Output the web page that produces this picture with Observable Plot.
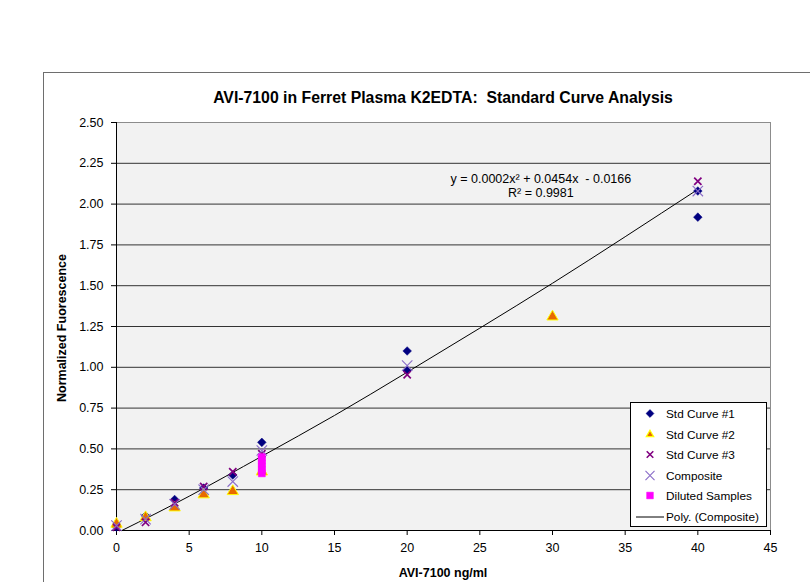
<!DOCTYPE html>
<html>
<head>
<meta charset="utf-8">
<script src="https://cdn.jsdelivr.net/npm/d3@7"></script>
<script src="https://cdn.jsdelivr.net/npm/@observablehq/plot@0.6"></script>
<style>
  html, body { margin: 0; padding: 0; background: #fff; }
  body { width: 810px; height: 582px; overflow: hidden; position: relative; font-family: "Liberation Sans", Arial, sans-serif; }
  #outer { position: absolute; left: 43px; top: 72px; width: 820px; height: 600px; border: 1px solid #6e6e6e; box-sizing: border-box; }
  #chart { position: absolute; left: 0; top: 0; }
  #title { position: absolute; left: 0; width: 886px; top: 89px; text-align: center; font-weight: bold; font-size: 15.8px; color: #000; }
  #ylab { position: absolute; left: 62px; top: 328px; transform: translate(-50%, -50%) rotate(-90deg); font-weight: bold; font-size: 12.5px; white-space: nowrap; }
  #xlab { position: absolute; left: 0; width: 886px; top: 566px; line-height: 15px; text-align: center; font-weight: bold; font-size: 12.5px; }
  #legend { position: absolute; left: 630px; top: 402px; width: 137px; height: 125px; box-sizing: border-box; background: #fff; border: 1px solid #000; font-size: 11.8px; }
  .row { position: absolute; left: 0; height: 20px; }
  .row svg { position: absolute; left: 0; top: 0; }
  .row span { position: absolute; left: 35px; top: 3px; white-space: nowrap; }
</style>
</head>
<body>
<div id="outer"></div>
<div id="chart"></div>
<div id="title">AVI-7100 in Ferret Plasma K2EDTA:&nbsp; Standard Curve Analysis</div>
<div id="ylab">Normalized Fuorescence</div>
<div id="xlab">AVI-7100 ng/ml</div>
<div id="legend"></div>
<script>
// ---- data ----
const xTicks = [0, 5, 10, 15, 20, 25, 30, 35, 40, 45];
const yTicks = [0, 0.25, 0.5, 0.75, 1.0, 1.25, 1.5, 1.75, 2.0, 2.25, 2.5];

const std1X = [0, 2, 4, 6, 8, 10, 20, 20, 40, 40];
const std1Y = [0.02, 0.09, 0.19, 0.26, 0.34, 0.54, 1.10, 0.98, 2.08, 1.92];

const std2X = [0, 2, 4, 6, 8, 10, 30];
const std2Y = [0.04, 0.08, 0.14, 0.22, 0.24, 0.36, 1.31];

const std3X = [0, 2, 4, 6, 8, 10, 20, 40];
const std3Y = [0.02, 0.05, 0.17, 0.27, 0.36, 0.47, 0.955, 2.14];

const compX = [0, 2, 4, 6, 8, 10, 20, 40];
const compY = [0.03, 0.07, 0.16, 0.25, 0.30, 0.49, 1.01, 2.08];

const dilX = [10, 10, 10, 10, 10, 10];
const dilY = [0.35, 0.37, 0.39, 0.41, 0.43, 0.45];

// trend line (Poly. Composite)
const polyX = [0.37, 5, 10, 15, 20, 25, 30, 35, 40];
const polyY = [0, 0.21, 0.455, 0.705, 0.97, 1.24, 1.515, 1.80, 2.09];

const equationText = "y = 0.0002x\u00B2 + 0.0454x  - 0.0166\nR\u00B2 = 0.9981";
const legendLabels = ["Std Curve #1", "Std Curve #2", "Std Curve #3", "Composite", "Diluted Samples", "Poly. (Composite)"];

// ---- build tables ----
const zip = (xs, ys) => xs.map((x, i) => ({x, y: ys[i]}));
const std1 = zip(std1X, std1Y);
const std2 = zip(std2X, std2Y);
const std3 = zip(std3X, std3Y);
const comp = zip(compX, compY);
const dil = zip(dilX, dilY);
const poly = zip(polyX, polyY);

const navy = "#000080", orange = "#e86a00", yellow = "#ffff00", purple = "#800080", lav = "#8a6cc8", magenta = "#ff00ff";

const chart = Plot.plot({
  width: 810,
  height: 582,
  marginLeft: 116,
  marginRight: 40,
  marginTop: 122,
  marginBottom: 52,
  style: {fontFamily: "'Liberation Sans', Arial, sans-serif", fontSize: "12.5px", background: "transparent", color: "#000"},
  x: {domain: [0, 45]},
  y: {domain: [0, 2.5]},
  marks: [
    Plot.frame({fill: "#f2f2f2", stroke: "#8c8c8c"}),
    Plot.gridY(yTicks.slice(1, -1), {stroke: "#333", strokeOpacity: 1, strokeWidth: 1}),
    Plot.axisX({ticks: xTicks, tickSize: 5, tickPadding: 8, label: null, tickFormat: d => String(d), fontSize: 12.5}),
    Plot.axisY({ticks: yTicks, tickSize: 5, tickPadding: 8, label: null, tickFormat: d3.format(".2f"), fontSize: 12.5}),
    Plot.ruleX([0], {stroke: "#000"}),
    Plot.ruleY([0], {stroke: "#000"}),
    Plot.line(poly, {x: "x", y: "y", curve: "natural", stroke: "#000", strokeWidth: 1}),
    Plot.dot(std1, {x: "x", y: "y", symbol: "diamond2", r: 3.9, fill: navy, stroke: navy, strokeWidth: 0.5}),
    Plot.dot(std2, {x: "x", y: "y", symbol: "triangle2", r: 5.4, fill: orange, stroke: yellow, strokeWidth: 1}),
    Plot.dot(std3, {x: "x", y: "y", symbol: "times", r: 3.4, stroke: purple, strokeWidth: 1.7}),
    Plot.dot(comp, {x: "x", y: "y", symbol: "times", r: 4.8, stroke: lav, strokeWidth: 1.1}),
    Plot.dot(dil, {x: "x", y: "y", symbol: "square", r: 3.9, fill: magenta, stroke: magenta, strokeWidth: 0.5}),
    Plot.text([equationText], {x: 29.2, y: 2.115, text: d => d, fontSize: 12.5, lineHeight: 1.12, fill: "#000"})
  ]
});
document.getElementById("chart").appendChild(chart);

// ---- legend ----
const legend = d3.select("#legend");
const symbols = [
  {type: "diamond", fill: navy, stroke: navy, sw: 0.5, size: 40},
  {type: "triangle", fill: orange, stroke: yellow, sw: 1.2, size: 40},
  {type: "times", fill: "none", stroke: purple, sw: 1.6, size: 30},
  {type: "times", fill: "none", stroke: lav, sw: 1.1, size: 55},
  {type: "square", fill: magenta, stroke: magenta, sw: 0.5, size: 45},
  {type: "line"}
];
const d3sym = {diamond: d3.symbolDiamond2, triangle: d3.symbolTriangle2, times: d3.symbolTimes, square: d3.symbolSquare};
legendLabels.forEach((lab, i) => {
  const row = legend.append("div").attr("class", "row").style("top", (1 + i * 20.6) + "px").style("width", "135px");
  const svg = row.append("svg").attr("width", 34).attr("height", 20);
  const s = symbols[i];
  if (s.type === "line") {
    svg.append("line").attr("x1", 5).attr("x2", 33).attr("y1", 10).attr("y2", 10).attr("stroke", "#000").attr("stroke-width", 1);
  } else {
    svg.append("path").attr("transform", "translate(19,9.5)")
      .attr("d", d3.symbol(d3sym[s.type], s.size)())
      .attr("fill", s.fill).attr("stroke", s.stroke).attr("stroke-width", s.sw);
  }
  row.append("span").text(lab);
});
</script>
</body>
</html>
